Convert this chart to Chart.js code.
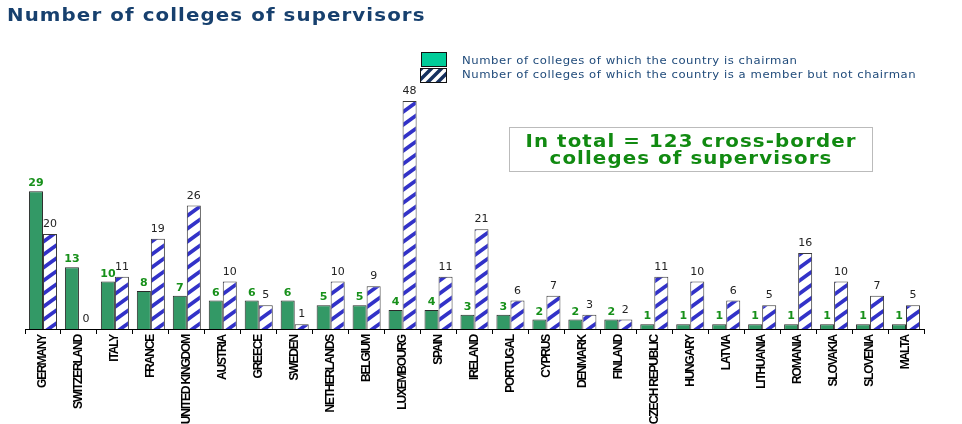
<!DOCTYPE html>
<html>
<head>
<meta charset="utf-8">
<script src="https://cdn.jsdelivr.net/npm/chart.js@4/dist/chart.umd.min.js"></script>
<style>
html,body{margin:0;padding:0;background:#fff;}
#wrap{width:962px;height:424px;position:relative;}
</style>
</head>
<body>
<div id="wrap"><canvas id="c" width="962" height="424"></canvas></div>
<script>
const categories = ["GERMANY","SWITZERLAND","ITALY","FRANCE","UNITED KINGDOM","AUSTRIA","GREECE","SWEDEN","NETHERLANDS","BELGIUM","LUXEMBOURG","SPAIN","IRELAND","PORTUGAL","CYPRUS","DENMARK","FINLAND","CZECH REPUBLIC","HUNGARY","LATVIA","LITHUANIA","ROMANIA","SLOVAKIA","SLOVENIA","MALTA"];
const chairmanValues = [29,13,10,8,7,6,6,6,5,5,4,4,3,3,2,2,2,1,1,1,1,1,1,1,1];
const memberValues = [20,0,11,19,26,10,5,1,10,9,48,11,21,6,7,3,2,11,10,6,5,16,10,7,5];
const seriesNames = ["Number of colleges of which the country is chairman","Number of colleges of which the country is a member but not chairman"];
const titleText = "Number of colleges of supervisors";
const noteLines = ["In total = 123 cross-border","colleges of supervisors"];

function makeHatch(ctx, color, w, h, width){
  const c = document.createElement('canvas');
  c.width = w; c.height = h;
  const x = c.getContext('2d');
  x.fillStyle = '#fff'; x.fillRect(0,0,w,h);
  x.strokeStyle = color; x.lineWidth = width;
  x.beginPath();
  for (let k=-2;k<=2;k++){
    x.moveTo(k*w - w, 2*h);
    x.lineTo(k*w + 2*w, -h);
  }
  x.stroke();
  return ctx.createPattern(c,'repeat');
}

const canvas = document.getElementById('c');
const ctx0 = canvas.getContext('2d');
const hatch = makeHatch(ctx0, '#3232c8', 18, 13, 3.8);
const legendHatch = makeHatch(ctx0, '#15305e', 10, 10, 3.5);

const spacing = {
  id:'spacing',
  beforeDraw(chart){ chart.ctx.letterSpacing = '-1.2px'; },
  beforeDatasetsDraw(chart){ chart.ctx.letterSpacing = '0px'; }
};

function wideText(ctx, text, x, y, k){
  ctx.save();
  ctx.translate(x, y);
  ctx.scale(k, 1);
  ctx.fillText(text, 0, 0);
  ctx.restore();
}

const decor = {
  id:'decor',
  afterDatasetsDraw(chart){
    const ctx = chart.ctx;
    ctx.save();
    ctx.letterSpacing = '0px';
    const m0 = chart.getDatasetMeta(0), m1 = chart.getDatasetMeta(1);
    ctx.textAlign = 'center';
    ctx.textBaseline = 'alphabetic';
    ctx.font = 'bold 11px "DejaVu Sans"';
    ctx.fillStyle = '#17901a';
    m0.data.forEach((el,i)=>{ ctx.fillText(String(chairmanValues[i]), el.x, el.y - 5); });
    ctx.font = '11px "DejaVu Sans"';
    ctx.fillStyle = '#222';
    m1.data.forEach((el,i)=>{ ctx.fillText(String(memberValues[i]), el.x, el.y - 7); });
    ctx.restore();
  },
  afterDraw(chart){
    const ctx = chart.ctx;
    ctx.save();
    // title
    ctx.letterSpacing = '1px';
    ctx.font = 'bold 18px "DejaVu Sans"';
    ctx.fillStyle = '#17406e';
    ctx.textAlign = 'left';
    ctx.textBaseline = 'alphabetic';
    wideText(ctx, titleText, 7, 21, 1.1);
    // legend
    ctx.fillStyle = '#00cc99';
    ctx.fillRect(422,53,24,13);
    ctx.strokeStyle = '#111'; ctx.lineWidth = 1;
    ctx.strokeRect(421.5,52.5,25,14);
    ctx.fillStyle = legendHatch;
    ctx.fillRect(421,69,25,13);
    ctx.strokeRect(420.5,68.5,26,14);
    ctx.letterSpacing = '0.5px';
    ctx.font = '11px "DejaVu Sans"';
    ctx.fillStyle = '#1f4a7a';
    ctx.textBaseline = 'middle';
    wideText(ctx, seriesNames[0], 462, 61, 1.06);
    wideText(ctx, seriesNames[1], 462, 75, 1.06);
    // note box
    ctx.setLineDash([1,1]);
    ctx.strokeStyle = '#777';
    ctx.strokeRect(509.5,127.5,363,44);
    ctx.setLineDash([]);
    ctx.letterSpacing = '1px';
    ctx.font = 'bold 18px "DejaVu Sans"';
    ctx.fillStyle = '#118a11';
    ctx.textAlign = 'center';
    ctx.textBaseline = 'alphabetic';
    wideText(ctx, noteLines[0], 691, 147, 1.1);
    wideText(ctx, noteLines[1], 691, 164, 1.1);
    ctx.restore();
  }
};

new Chart(canvas, {
  type:'bar',
  data:{
    labels: categories,
    datasets:[
      {label: seriesNames[0], data: chairmanValues, backgroundColor:'#339966', borderColor:'#2a2a2a', borderWidth:1, categoryPercentage:0.78, barPercentage:1},
      {label: seriesNames[1], data: memberValues, backgroundColor: hatch, borderColor:'#3a3a3a', borderWidth:1, categoryPercentage:0.78, barPercentage:1}
    ]
  },
  options:{
    responsive:false,
    animation:false,
    layout:{padding:{top:44,left:25,right:38,bottom:0}},
    plugins:{legend:{display:false}, tooltip:{enabled:false}},
    scales:{
      x:{
        grid:{display:true, drawOnChartArea:false, drawTicks:true, tickLength:5, color:'#000', offset:true},
        border:{color:'#000', width:1},
        ticks:{minRotation:90, maxRotation:90, autoSkip:false, padding:1, color:'#000',
               font:{family:'"Liberation Sans",Arial,sans-serif', size:12, weight:'bold'}},
        afterFit(s){ s.height = 95; }
      },
      y:{display:false, min:0, max:60}
    }
  },
  plugins:[spacing, decor]
});
</script>
</body>
</html>
